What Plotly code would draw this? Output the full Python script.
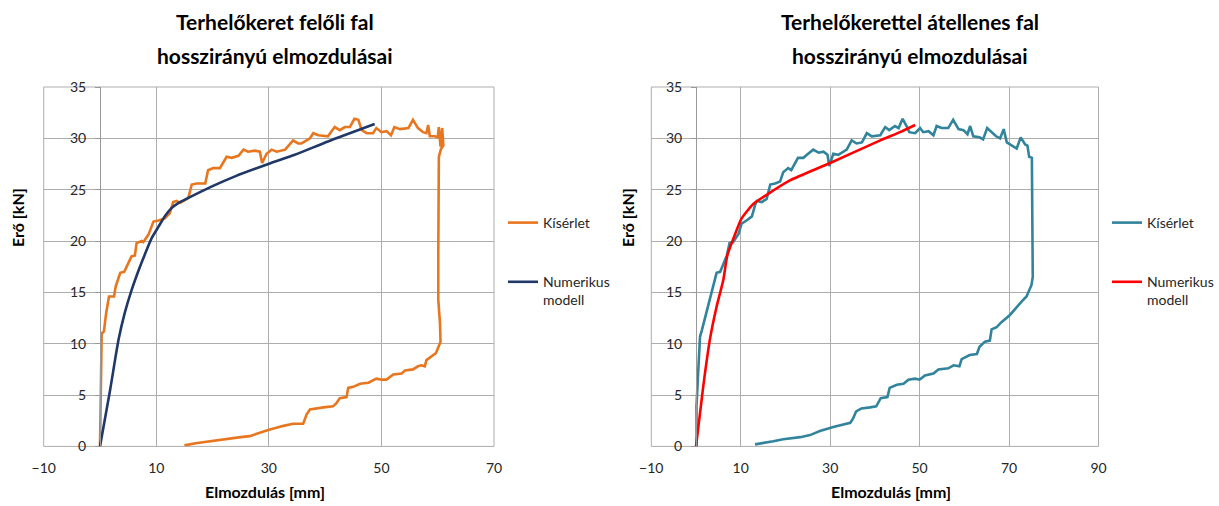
import plotly.graph_objects as go

# ---------------- data ----------------
left_title = "Terhelőkeret felőli fal"
right_title = "Terhelőkerettel átellenes fal"
subtitle = "hosszirányú elmozdulásai"
x_label = "Elmozdulás [mm]"
y_label = "Erő [kN]"
series_names = ["Kísérlet", "Numerikus<br>modell"]

left_x_ticks = [-10, 10, 30, 50, 70]
right_x_ticks = [-10, 10, 30, 50, 70, 90]
y_ticks = [0, 5, 10, 15, 20, 25, 30, 35]

# left chart – experiment (orange)
left_exp_x = [0, 0.1, 0.2, 0.3, 0.7, 1.1, 1.6, 2.5, 2.8, 3.6, 4.3, 4.9, 5.6, 6.2, 6.5, 7.4, 7.7,
              8.6, 9.5, 10.4, 11.5, 12.4, 13.0, 13.6, 14.2, 15.7, 16.3, 17.2, 18.7, 19.2, 20.1,
              21.3, 22.5, 23.4, 24.6, 25.5, 26.3, 27.5, 28.4, 28.8, 29.6, 30.5, 31.4, 32.9, 33.4,
              34.3, 35.2, 35.8, 37.3, 37.9, 38.8, 40.5, 41.7, 42.6, 43.5, 44.4, 45.2, 45.9, 46.5,
              47.4, 48.5, 49.1, 50.0, 50.9, 51.7, 52.3, 53.3, 54.8, 55.6, 56.5, 57.4, 58.0, 58.3,
              58.6, 59.5, 60.0, 60.2, 60.5, 60.8, 61.0, 60.6, 60.2, 60.1, 60.1, 60.4, 60.5, 59.7,
              58.6, 58.0, 57.7, 57.1, 56.5, 55.6, 54.2, 53.6, 52.1, 50.9, 50.0, 49.1, 47.7, 46.2,
              45.0, 44.1, 43.8, 42.6, 42.0, 41.4, 39.7, 37.3, 36.7, 36.1, 34.3, 32.6, 29.9, 26.6,
              25.0, 23.0, 20.0, 17.0, 15.0]
left_exp_y = [0, 3.0, 7.1, 11.0, 11.2, 13.0, 14.6, 14.6, 15.6, 16.9, 17.0, 17.7, 18.5, 18.6, 19.8,
              20.0, 19.9, 20.6, 21.9, 22.0, 22.2, 22.7, 23.8, 23.9, 23.7, 24.2, 25.5, 25.6, 25.6,
              26.9, 27.1, 27.1, 28.2, 28.1, 28.3, 28.9, 28.7, 28.8, 28.7, 27.6, 28.5, 28.9, 28.7,
              28.9, 29.2, 29.8, 29.5, 29.5, 30.0, 30.5, 30.3, 30.2, 31.1, 30.8, 31.1, 31.1, 31.9,
              31.8, 30.8, 30.5, 30.5, 31.0, 30.6, 30.7, 30.3, 31.1, 30.9, 31.0, 31.8, 31.0, 30.6,
              30.5, 31.3, 30.2, 30.2, 30.1, 31.1, 29.2, 31.0, 29.3, 29.0, 28.2, 18.6, 14.3, 12.0,
              10.2, 9.1, 8.7, 8.4, 7.8, 7.9, 7.8, 7.5, 7.4, 7.1, 7.0, 6.5, 6.5, 6.6, 6.2, 6.1, 5.8,
              5.7, 4.8, 4.7, 4.2, 3.9, 3.8, 3.6, 3.1, 2.2, 2.2, 2.0, 1.6, 1.0, 0.9, 0.75, 0.55,
              0.3, 0.1]

# left chart – numerical model (navy)
left_num_x = [0, 1.8, 3.3, 4.4, 5.6, 7.1, 7.9, 9.2, 10.4, 11.5, 12.7, 13.9, 15.7, 19.8, 24.0,
              29.9, 34.6, 40.5, 48.8]
left_num_y = [0, 5.5, 10.4, 13.0, 15.2, 17.5, 18.6, 20.3, 21.4, 22.4, 23.2, 23.7, 24.2, 25.3,
              26.3, 27.5, 28.4, 29.7, 31.4]

# right chart – experiment (teal)
right_exp_x = [0.15, 0.1, 0.4, 0.9, 1.3, 1.9, 2.6, 3.1, 3.9, 4.6, 5.4, 6.1, 6.9, 7.5, 8.3, 9.5,
               10.2, 11.3, 12.5, 13.2, 13.6, 14.7, 15.8, 16.6, 17.7, 18.8, 19.5, 20.6, 21.3, 22.8,
               24.0, 24.8, 26.2, 27.4, 28.5, 29.4, 29.8, 30.7, 31.8, 33.7, 34.8, 35.9, 37.1, 38.2,
               39.3, 41.2, 42.3, 43.2, 44.5, 45.3, 46.2, 47.2, 47.7, 49.0, 50.1, 50.8, 52.0, 53.1,
               53.8, 54.9, 56.4, 57.5, 58.7, 59.8, 60.7, 61.3, 62.0, 63.4, 64.2, 65.1, 66.1, 67.1,
               68.0, 68.8, 69.5, 70.6, 71.7, 72.6, 73.6, 74.1, 74.5, 75.1, 75.3, 75.3, 75.0, 73.9,
               72.8, 71.3, 70.2, 68.3, 67.2, 66.1, 65.7, 64.6, 63.4, 62.8, 61.2, 59.4, 58.9, 57.6,
               56.4, 54.2, 53.1, 51.2, 50.0, 49.0, 47.5, 46.4, 44.9, 43.3, 42.8, 41.3, 40.3, 38.9,
               37.0, 35.8, 35.1, 34.5, 30.7, 27.7, 25.5, 23.3, 19.5, 17.3, 13.2]
right_exp_y = [0, 3.9, 6.5, 10.7, 11.3, 12.3, 13.3, 14.3, 15.6, 16.9, 17.0, 17.7, 18.6, 19.8, 19.9,
               20.7, 21.7, 22.0, 22.4, 23.5, 23.9, 23.8, 24.1, 25.5, 25.6, 25.8, 26.7, 27.1, 26.9,
               28.1, 28.1, 28.4, 28.9, 28.6, 28.7, 28.4, 27.3, 28.5, 28.4, 28.9, 29.8, 29.5, 29.6,
               30.5, 30.2, 30.3, 31.1, 30.8, 31.2, 31.0, 31.9, 31.1, 30.6, 30.5, 31.0, 30.6, 30.7,
               30.3, 31.2, 31.0, 31.0, 31.8, 30.9, 30.8, 30.4, 31.2, 30.2, 30.1, 29.9, 31.0, 30.6,
               30.2, 30.0, 30.9, 29.6, 29.3, 29.0, 30.1, 29.4, 29.3, 28.2, 28.1, 18.6, 16.5, 15.7,
               14.6, 14.1, 13.4, 12.8, 12.1, 11.6, 11.4, 10.3, 10.2, 9.7, 9.0, 8.9, 8.5, 7.8, 7.9,
               7.6, 7.5, 7.1, 6.9, 6.5, 6.6, 6.5, 6.1, 6.0, 5.7, 4.8, 4.7, 3.9, 3.8, 3.7, 3.4, 2.7,
               2.3, 1.9, 1.5, 1.1, 0.9, 0.7, 0.5, 0.2]

# right chart – numerical model (red)
right_num_x = [0, 1.6, 3.1, 4.6, 6.1, 7.0, 8.5, 10.2, 12.8, 15.8, 21.0, 30.0, 41.2, 45.6, 49.0]
right_num_y = [0, 5.8, 10.4, 13.6, 16.2, 18.6, 20.4, 22.2, 23.6, 24.5, 25.9, 27.6, 29.8, 30.6, 31.3]

# ---------------- styling ----------------
W, H = 1219, 506
FONT = "Lato"
ORANGE = "#E8761E"
NAVY = "#1F3868"
TEAL = "#31849B"
RED = "#FF0000"
GRID = "#ADADAD"
TEXT = "#262626"


def fx(p):  # pixel -> paper x
    return p / W


def fy(p):  # pixel -> paper y
    return 1 - p / H


fig = go.Figure()

fig.add_trace(go.Scatter(x=left_exp_x, y=left_exp_y, mode="lines", name=series_names[0],
                         line=dict(color=ORANGE, width=2.6), xaxis="x", yaxis="y",
                         legend="legend", legendgroup="a"))
fig.add_trace(go.Scatter(x=left_num_x, y=left_num_y, mode="lines", name=series_names[1],
                         line=dict(color=NAVY, width=2.6, shape="spline", smoothing=0.6),
                         xaxis="x", yaxis="y", legend="legend", legendgroup="b"))
fig.add_trace(go.Scatter(x=right_exp_x, y=right_exp_y, mode="lines", name=series_names[0],
                         line=dict(color=TEAL, width=2.6), xaxis="x2", yaxis="y2",
                         legend="legend2", legendgroup="c"))
fig.add_trace(go.Scatter(x=right_num_x, y=right_num_y, mode="lines", name=series_names[1],
                         line=dict(color=RED, width=2.6, shape="spline", smoothing=0.6),
                         xaxis="x2", yaxis="y2", legend="legend2", legendgroup="d"))

ydom = [fy(446.4), fy(87)]
left_dom = [fx(43.7), fx(494)]
right_dom = [fx(651.3), fx(1098.5)]

tickfont = dict(family=FONT, size=14, color=TEXT)
common_x = dict(showgrid=True, gridcolor=GRID, gridwidth=1, zeroline=False, showline=False,
                ticks="outside", ticklen=4, tickcolor="rgba(0,0,0,0)", ticklabelstandoff=5,
                tickfont=tickfont, fixedrange=True)
common_y = dict(range=[0, 35], tickvals=y_ticks, showgrid=True, gridcolor=GRID, gridwidth=1,
                zeroline=False, showline=True, linecolor="#999999", linewidth=1,
                ticks="outside", ticklen=5, tickcolor="#999999", ticklabelstandoff=6,
                tickfont=tickfont, domain=ydom, anchor="free")

legend_common = dict(xanchor="left", yanchor="top", bgcolor="rgba(0,0,0,0)",
                     font=dict(family=FONT, size=14, color=TEXT), valign="top",
                     traceorder="grouped", tracegroupgap=38)

fig.update_layout(
    width=W, height=H,
    margin=dict(l=0, r=0, t=0, b=0, autoexpand=False),
    paper_bgcolor="white", plot_bgcolor="white",
    font=dict(family=FONT, color=TEXT),
    xaxis=dict(common_x, domain=left_dom, range=[-10, 70], tickvals=left_x_ticks, anchor="y"),
    yaxis=dict(common_y, position=fx(100)),
    xaxis2=dict(common_x, domain=right_dom, range=[-10, 90], tickvals=right_x_ticks, anchor="y2"),
    yaxis2=dict(common_y, position=fx(696)),
    legend=dict(legend_common, x=fx(503), y=fy(207)),
    legend2=dict(legend_common, x=fx(1107), y=fy(207)),
)

# plot-area borders
for xr, yr in (("x", "y"), ("x2", "y2")):
    fig.add_shape(type="rect", xref=f"{xr} domain", yref=f"{yr} domain", x0=0, y0=0, x1=1, y1=1,
                  line=dict(color=GRID, width=1), layer="below")

# titles
title_font = dict(family=FONT, size=21, color="black")
for cx, t in ((275, left_title), (910, right_title)):
    fig.add_annotation(x=fx(cx), y=fy(22), xref="paper", yref="paper", text=f"<b>{t}</b>",
                       showarrow=False, font=title_font, xanchor="center", yanchor="middle")
    fig.add_annotation(x=fx(cx), y=fy(55), xref="paper", yref="paper", text=f"<b>{subtitle}</b>",
                       showarrow=False, font=title_font, xanchor="center", yanchor="middle")

axis_font = dict(family=FONT, size=16, color="black")
for cx in (265, 891):
    fig.add_annotation(x=fx(cx), y=fy(491), xref="paper", yref="paper", text=f"<b>{x_label}</b>",
                       showarrow=False, font=axis_font, xanchor="center", yanchor="middle")
for cx in (18, 628):
    fig.add_annotation(x=fx(cx), y=fy(218), xref="paper", yref="paper", text=f"<b>{y_label}</b>",
                       showarrow=False, font=axis_font, textangle=-90,
                       xanchor="center", yanchor="middle")

fig.write_html("out.html")
